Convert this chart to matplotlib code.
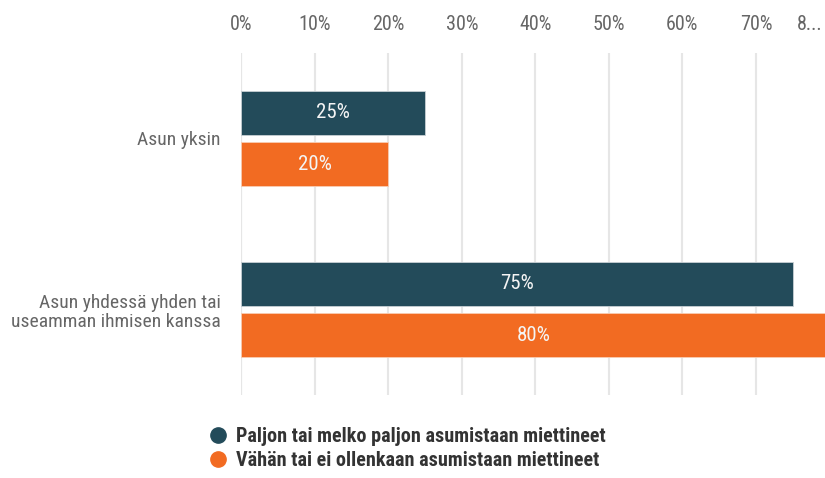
import numpy as np
import matplotlib.pyplot as plt
from matplotlib.lines import Line2D

plt.rcParams['font.family'] = ['Roboto Condensed', 'Liberation Sans', 'DejaVu Sans']

# data
categories = ['Asun yksin', 'Asun yhdessä yhden tai\nuseamman ihmisen kanssa']
paljon = [25, 75]   # Paljon tai melko paljon asumistaan miettineet
vahan = [20, 80]    # Vähän tai ei ollenkaan asumistaan miettineet
series_names = ['Paljon tai melko paljon asumistaan miettineet',
                'Vähän tai ei ollenkaan asumistaan miettineet']
tick_vals = [0, 10, 20, 30, 40, 50, 60, 70]

dark = '#234b5a'
orange = '#f26b22'

fig = plt.figure(figsize=(8.25, 4.78), dpi=100)
W, H = 825, 478
ax = fig.add_axes([241.4 / W, 1 - 395 / H, (W - 241.4) / W, (395 - 53) / H])

y = np.arange(len(categories))
h = 0.26
off = 0.15
b1 = ax.barh(y - off, paljon, height=h, color=dark, edgecolor='#c8d0d4', linewidth=0.6, zorder=3)
b2 = ax.barh(y + off, vahan, height=h, color=orange, edgecolor='#f8cdb3', linewidth=0.6, zorder=3)

for bars in (b1, b2):
    ax.bar_label(bars, labels=['{}%'.format(v) for v in bars.datavalues],
                 label_type='center', color='#f4f4f4', fontsize=15, zorder=4)

ax.set_xlim(0, 79.4)
ax.set_ylim(1.5, -0.5)

ax.set_xticks(tick_vals)
ax.set_xticklabels(['{}%'.format(t) for t in tick_vals])
ax.xaxis.tick_top()
ax.tick_params(axis='x', length=0, pad=14, labelsize=14.5, labelcolor='#666666')
ax.annotate('8...', xy=(80, 1), xycoords=('data', 'axes fraction'),
            xytext=(-14, 14), textcoords='offset points', ha='center', va='bottom',
            fontsize=14.5, color='#666666', annotation_clip=False)

ax.set_yticks(y)
ax.set_yticklabels(categories, ha='right', multialignment='right', linespacing=1.1)
ax.tick_params(axis='y', length=0, pad=15, labelsize=14, labelcolor='#666666')

ax.grid(axis='x', color='#e6e6e6', linewidth=1.5, zorder=0)
ax.axvline(0, color='#ccd6eb', linewidth=1.5, zorder=1)
for s in ax.spines.values():
    s.set_visible(False)

handles = [Line2D([], [], marker='o', linestyle='none', markersize=11, color=dark),
           Line2D([], [], marker='o', linestyle='none', markersize=11, color=orange)]
leg = fig.legend(handles, series_names, loc='upper left', bbox_to_anchor=(208 / W, 1 - 427 / H),
                 frameon=False, fontsize=14.5, handletextpad=0.4, labelspacing=0.25,
                 borderpad=0, borderaxespad=0, handlelength=1.0)
for t in leg.get_texts():
    t.set_color('#333333')
    t.set_fontweight('bold')

fig.savefig('out.png', dpi=100)
